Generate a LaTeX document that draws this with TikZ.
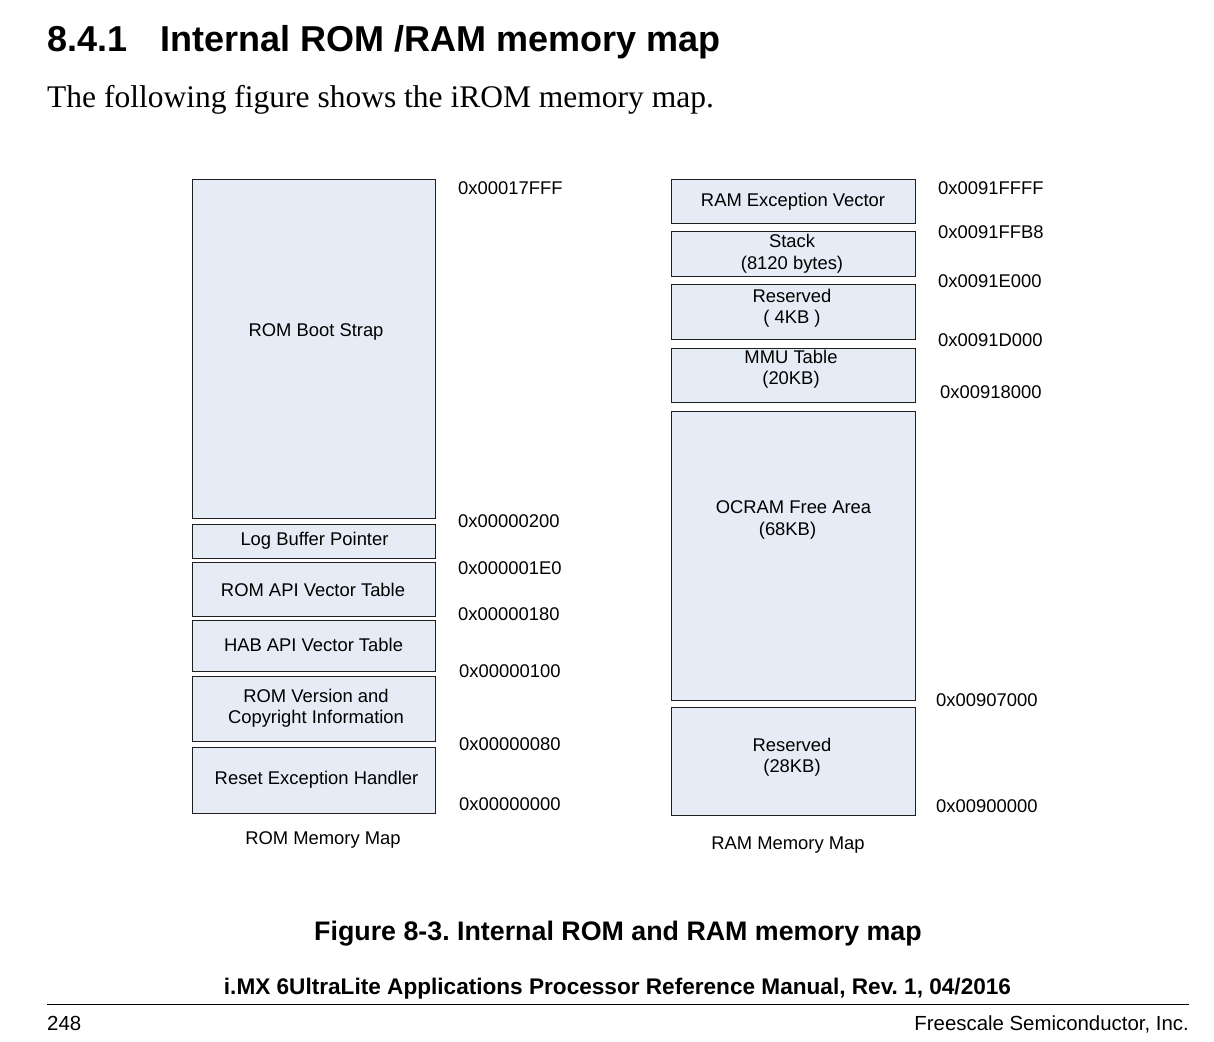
\documentclass[tikz,border=0pt]{standalone}
\usepackage{fontspec}
\setmainfont{Liberation Serif}
\setsansfont{Liberation Sans}
\frenchspacing
\definecolor{memfill}{RGB}{230,236,246}
\definecolor{memline}{RGB}{30,30,30}
\begin{document}
\begin{tikzpicture}[x=1pt,y=-1pt,
  memblk/.style={draw=memline, line width=0.9pt, fill=memfill, inner sep=0pt, outer sep=0pt},
  romblk/.style={memblk, minimum width=243},
  ramblk/.style={memblk, minimum width=244},
  lbl/.style={font=\fontsize{18.4}{21.5}\selectfont\sffamily, align=center, inner sep=0pt, yshift=-2pt},
  addr/.style={font=\fontsize{18.4}{21.5}\selectfont\sffamily, anchor=west, inner sep=0pt, yshift=-1pt},
  maptitle/.style={font=\fontsize{18.4}{21.5}\selectfont\sffamily, inner sep=0pt, yshift=-2.5pt},
]
\path[use as bounding box, fill=white] (0,0) rectangle (1214,1041);

% header
\node[anchor=base west, inner sep=0pt, font=\fontsize{36}{40}\selectfont\sffamily\bfseries] (secnum) at (47,52) {8.4.1};
\node[anchor=base west, inner sep=0pt, font=\fontsize{36}{40}\selectfont\sffamily\bfseries] (sectitle) at (160,52) {Internal ROM /RAM memory map};
\node[anchor=base west, inner sep=0pt, font=\fontsize{31.5}{36}\selectfont\rmfamily] (intro) at (47,107) {The following figure shows the iROM memory map.};

% ROM boxes
\node[romblk, minimum height=339] (boot)   at (313.5,348.5) {};
\node[romblk, minimum height=34]  (logbuf) at (313.5,541) {};
\node[romblk, minimum height=54]  (romapi) at (313.5,589) {};
\node[romblk, minimum height=51]  (habapi) at (313.5,645.5) {};
\node[romblk, minimum height=65]  (romver) at (313.5,708.5) {};
\node[romblk, minimum height=66]  (reset)  at (313.5,780) {};

\node[lbl] (tboot)   at (316,330) {ROM Boot Strap};
\node[lbl] (tlogbuf) at (314.5,539) {Log Buffer Pointer};
\node[lbl] (tromapi) at (313,588) {ROM API Vector Table};
\node[lbl] (thabapi) at (313.5,643) {HAB API Vector Table};
\node[lbl] (tromver) at (316,706) {ROM Version and\\Copyright Information};
\node[lbl] (treset)  at (316.5,778) {Reset Exception Handler};
\node[maptitle] (romtitle) at (323,837) {ROM Memory Map};

% ROM addresses
\node[addr] (a1) at (458,187) {0x00017FFF};
\node[addr] (a2) at (458,520) {0x00000200};
\node[addr] (a3) at (458,567) {0x000001E0};
\node[addr] (a4) at (458,613) {0x00000180};
\node[addr] (a5) at (459,670) {0x00000100};
\node[addr] (a6) at (459,743) {0x00000080};
\node[addr] (a7) at (459,803) {0x00000000};

% RAM boxes
\node[ramblk, minimum height=44]  (ramexc) at (793,201) {};
\node[ramblk, minimum height=45]  (stack)  at (793,253.5) {};
\node[ramblk, minimum height=55]  (resfour) at (793,311.5) {};
\node[ramblk, minimum height=54]  (mmu)    at (793,375) {};
\node[ramblk, minimum height=289] (ocram)  at (793,555.5) {};
\node[ramblk, minimum height=108] (restwe) at (793,761) {};

\node[lbl] (tramexc) at (793,200) {RAM Exception Vector};
\node[lbl] (tstack)  at (792,251.5) {Stack\\(8120 bytes)};
\node[lbl] (tresfour) at (792,306) {Reserved\\( 4KB )};
\node[lbl] (tmmu)    at (791,367) {MMU Table\\(20KB)};
\node[lbl] (tocram)  at (793.5,505) {OCRAM Free Area};
\node[lbl] (tocramsz) at (787.5,529) {(68KB)};
\node[lbl] (trestwe) at (792,755) {Reserved\\(28KB)};
\node[maptitle] (ramtitle) at (788,843) {RAM Memory Map};

% RAM addresses
\node[addr] (b1) at (938,187) {0x0091FFFF};
\node[addr] (b2) at (938,231) {0x0091FFB8};
\node[addr] (b3) at (938,280) {0x0091E000};
\node[addr] (b4) at (938,339) {0x0091D000};
\node[addr] (b5) at (940,391) {0x00918000};
\node[addr] (b6) at (936,699) {0x00907000};
\node[addr] (b7) at (936,805) {0x00900000};

% caption and footer
\node[anchor=base, inner sep=0pt, font=\fontsize{26.8}{30}\selectfont\sffamily\bfseries] (caption) at (618,940) {Figure 8-3. Internal ROM and RAM memory map};
\node[anchor=base, inner sep=0pt, font=\fontsize{22.6}{26}\selectfont\sffamily\bfseries] (manual) at (617.5,994) {i.MX 6UltraLite Applications Processor Reference Manual, Rev. 1, 04/2016};
\coordinate (ruleL) at (47,1004);
\coordinate (ruleR) at (1189,1004);
\draw[line width=1pt, black] (ruleL) -- (ruleR);
\node[anchor=base west, inner sep=0pt, font=\fontsize{20.4}{24}\selectfont\sffamily] (page) at (47,1030) {248};
\node[anchor=base east, inner sep=0pt, font=\fontsize{20.4}{24}\selectfont\sffamily] (company) at (1189,1030) {Freescale Semiconductor, Inc.};
\end{tikzpicture}
\end{document}
